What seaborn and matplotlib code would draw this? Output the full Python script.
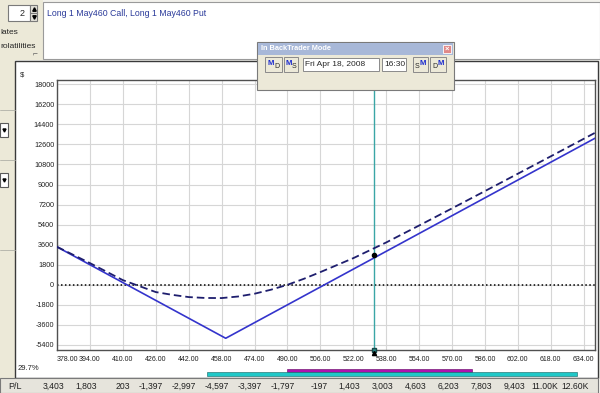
import matplotlib
matplotlib.use('Agg')
import matplotlib.pyplot as plt
from matplotlib import font_manager
from matplotlib.patches import Rectangle
from matplotlib.transforms import blended_transform_factory
import pandas as pd
import seaborn as sns

# --- data ---
price_ticks = [378, 394, 410, 426, 442, 458, 474, 490, 506, 522, 538,
               554, 570, 586, 602, 618, 634]
pl_ticks = [-5400, -3600, -1800, 0, 1800, 3600, 5400, 7200, 9000,
            10800, 12600, 14400, 16200, 18000]
pl_row = ["3,403", "1,803", "203", "-1,397", "-2,997", "-4,597", "-3,397",
          "-1,797", "-197", "1,403", "3,003", "4,603", "6,203", "7,803",
          "9,403", "11.00K", "12.60K"]

# P/L at expiration (solid line)
expiry_price = [378, 460, 639.5]
expiry_pl = [3403, -4797, 13153]

# P/L on the backtrader date (dashed line)
today_price = [378, 394, 410, 426, 434, 442, 450, 458, 466, 474, 482, 490,
               498, 506, 522, 538, 554, 570, 586, 602, 618, 634, 639.5]
today_pl = [3410, 1950, 420, -650, -900, -1100, -1180, -1190, -1050, -800,
            -440, 0, 540, 1140, 2390, 3800, 5320, 6860, 8410, 9970, 11530,
            13100, 13640]

cursor_price = 532.2
cursor_pl = 2713

sns.set_style('white')
plt.rcParams['font.family'] = ['Liberation Sans', 'DejaVu Sans']

# narrow face for the crowded axis labels, if it is there
names = {f.name for f in font_manager.fontManager.ttflist}
tick_font = 'Liberation Sans Narrow' if 'Liberation Sans Narrow' in names else 'Liberation Sans'
tick_size = 6 if tick_font == 'Liberation Sans Narrow' else 5.0

W, H = 600, 393
fig = plt.figure(figsize=(W / 100, H / 100), dpi=100)
fig.patch.set_facecolor('#f2f1ec')


def px_axes(x0, y0, x1, y1, z):
    return fig.add_axes([x0 / W, 1 - y1 / H, (x1 - x0) / W, (y1 - y0) / H], zorder=z)


# background ui layer in pixel coords
bg = px_axes(0, 0, W, H, 0)
bg.set_xlim(0, W)
bg.set_ylim(H, 0)
bg.axis('off')


def box(a, x0, y0, x1, y1, fc, ec='none', lw=0.8, z=1):
    a.add_patch(Rectangle((x0, y0), x1 - x0, y1 - y0, facecolor=fc,
                          edgecolor=ec, lw=lw, zorder=z))


# top-left controls
box(bg, 0, 0, 43, 60, '#ece9d8')
box(bg, 8, 5, 30, 21, 'white', '#7a7a7a')
bg.text(22, 13, '2', fontsize=6.5, ha='center', va='center')
box(bg, 30, 5, 37, 13, '#e4e2da', '#7a7a7a')
box(bg, 30, 13, 37, 21, '#e4e2da', '#7a7a7a')
bg.plot([33.5], [8.8], marker='^', ms=2.5, color='black')
bg.plot([33.5], [17.2], marker='v', ms=2.5, color='black')
bg.text(0, 33, 'lates', fontsize=6, va='center')
bg.text(0, 46, 'rolatilities', fontsize=6, va='center')
bg.text(33, 54, '⌐', fontsize=6, va='center', color='#606060')

# strategy text box
box(bg, 43, 2, 600, 59, 'white', '#9a9a9a')
bg.text(47, 13, 'Long 1 May460 Call, Long 1 May460 Put', fontsize=6.3,
        color='#2a3a9a', va='center')

# left strip
box(bg, 0, 60, 15, H, '#ece9d8')
for yy in (123, 173):
    box(bg, 0, yy, 8, yy + 14, 'white', '#5a5a5a')
    bg.plot([4], [yy + 7], marker='v', ms=2.2, color='black')
for yy in (110, 160, 250):
    bg.plot([0, 15], [yy, yy], color='#b0b0a8', lw=0.6)

# chart panel
box(bg, 15, 61, 598, 378, 'white', '#3a3a3a', lw=1)
bg.text(20, 75, '$', fontsize=5.5, va='center')
bg.text(18, 369, '29.7%', fontsize=5.5, va='center')

# P/L row
box(bg, 0, 378, 598, H, '#e6e4dc', '#7a7a7a', lw=0.8)
bg.text(8, 382, 'P/L', fontsize=6.5, va='top')

# --- main chart ---
ax = px_axes(57, 80, 595, 350, 1)
df_exp = pd.DataFrame({'price': expiry_price, 'pl': expiry_pl})
df_now = pd.DataFrame({'price': today_price, 'pl': today_pl})

ax.axhline(0, color='black', lw=1.1, ls=(0, (1, 1.6)), zorder=2)
ax.axvline(cursor_price, color='#3aa6a6', lw=1, zorder=2)
sns.lineplot(data=df_exp, x='price', y='pl', color='#3434cc', lw=1.2,
             ax=ax, zorder=3)
sns.lineplot(data=df_now, x='price', y='pl', color='#1e1e6e', lw=1.3,
             dashes=False, ax=ax, zorder=3)
ax.lines[-1].set_linestyle((0, (4.2, 2.2)))
ax.plot([cursor_price], [cursor_pl], 'o', color='black', ms=3, zorder=4)
ax.plot([cursor_price], [-5850], 's', color='#2a8a8a', mec='#1a4a4a',
        ms=3.5, zorder=5, clip_on=False)

ax.set_xlim(378, 639.5)
ax.set_ylim(-5850, 18380)
ax.set_xticks(price_ticks)
ax.set_xticklabels([f'{p:.2f}' for p in price_ticks], family=tick_font)
ax.set_yticks(pl_ticks)
ax.set_yticklabels([str(v) for v in pl_ticks], family=tick_font)
ax.set_xlabel('')
ax.set_ylabel('')
ax.grid(True, color='#d6d6d6', lw=0.8)
ax.set_axisbelow(True)
for s in ax.spines.values():
    s.set_color('#505050')
    s.set_linewidth(1)
ax.tick_params(axis='x', direction='inout', length=4, width=0.8,
               color='#404040', labelsize=tick_size, pad=2, labelcolor='#202020')
ax.tick_params(axis='y', length=0, labelsize=5.2, pad=2,
               labelcolor='#202020')
ax.get_xticklabels()[0].set_horizontalalignment('left')

# P/L values under each price (right edge a little past the tick)
trans = blended_transform_factory(ax.transData, bg.transData)
for p, txt in zip(price_ticks, pl_row):
    bg.text(min(p + 3.4, 636.6), 382, txt, transform=trans, fontsize=6.2,
            ha='right', va='top', color='#202020')

# overlay layer: bars, cursor triangle, dialog
top = px_axes(0, 0, W, H, 2)
top.set_xlim(0, W)
top.set_ylim(H, 0)
top.axis('off')
top.patch.set_alpha(0)
box(top, 287, 368.5, 472, 371.5, '#b010b0', '#600060', lw=0.4)
box(top, 207, 372, 577, 375.5, '#20c8c8', '#106060', lw=0.4)
top.plot([374.3], [353], marker='^', ms=3, color='black')

# BackTrader dialog
box(top, 257, 42, 454, 90, '#ece9d8', '#7a7a7a', lw=0.8)
box(top, 258, 43, 453, 54.5, '#a8b8d8')
top.text(261, 48.8, 'In BackTrader Mode', fontsize=5.3, color='white',
         fontweight='bold', va='center')
box(top, 443, 45, 451, 53, '#e08888', 'white', lw=0.6)
top.text(447, 49, '×', fontsize=5.5, color='white', ha='center',
         va='center', fontweight='bold')
for x0, x1, big, small, left in [(265, 282, 'M', 'D', True),
                                 (284, 298, 'M', 'S', True),
                                 (413, 428, 'M', 'S', False),
                                 (430, 446, 'M', 'D', False)]:
    box(top, x0, 57, x1, 72, '#ece9d8', '#8a8a8a', lw=0.7)
    xm = (x0 + x1) / 2
    if left:
        top.text(xm - 2.5, 63.5, big, fontsize=5.5, color='#1a2ad0',
                 fontweight='bold', ha='center', va='center')
        top.text(xm + 3.2, 66.5, small, fontsize=5, ha='center', va='center')
    else:
        top.text(xm - 3.2, 66.5, small, fontsize=5, ha='center', va='center')
        top.text(xm + 2.5, 63.5, big, fontsize=5.5, color='#1a2ad0',
                 fontweight='bold', ha='center', va='center')
box(top, 303, 58, 379, 71, 'white', '#8a8a8a', lw=0.7)
top.text(305, 64.5, 'Fri Apr 18, 2008', fontsize=6, va='center')
box(top, 382, 58, 406, 71, 'white', '#8a8a8a', lw=0.7)
top.text(384, 64.5, '16:30', fontsize=6, va='center')

fig.savefig('out.png', dpi=100)
